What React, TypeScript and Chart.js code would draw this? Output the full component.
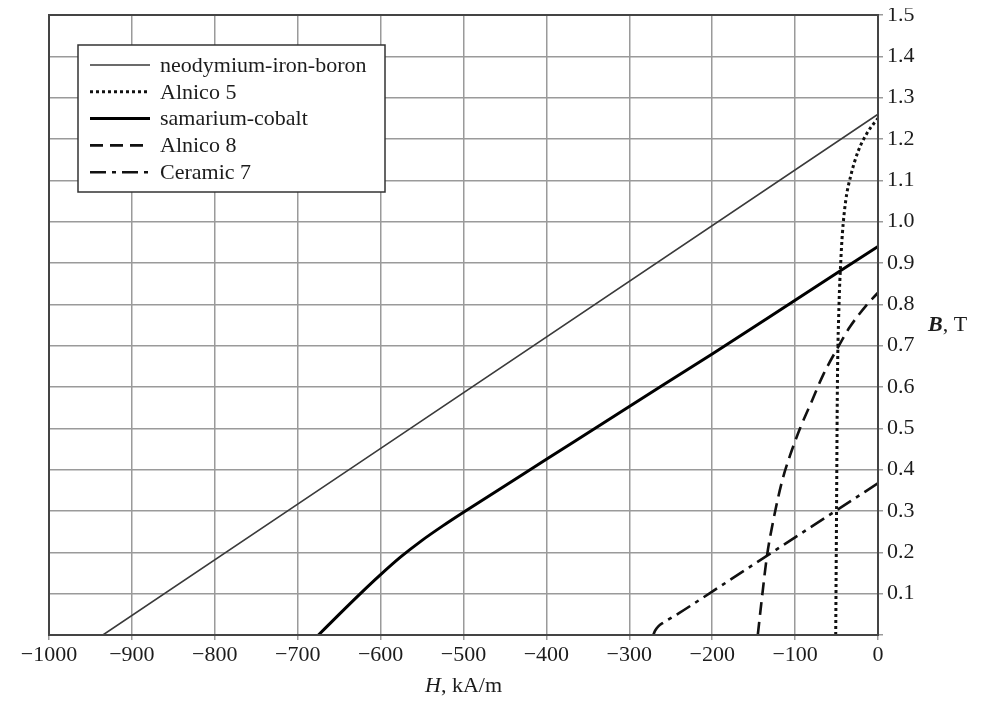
import React, { useEffect, useRef } from 'react';
import { Chart, registerables } from 'chart.js';

Chart.register(...registerables);

// Axis ranges / ticks
const hMin = -1000;
const hMax = 0;
const hStep = 100;
const bMin = 0;
const bMax = 1.5;
const bStep = 0.1;

// Series (H in kA/m, B in T)
const ndH = [-935, 0];
const ndB = [0, 1.26];

const alnico5H = [-51, -50, -49, -47, -45, -43, -39, -33, -24, -13, -4, 0];
const alnico5B = [0, 0.3, 0.6, 0.8, 0.9, 0.97, 1.05, 1.11, 1.17, 1.215, 1.24, 1.25];

const smcoH = [-675, -650, -625, -600, -575, -550, -525, -500, -400, -300, -200, -100, 0];
const smcoB = [0, 0.05, 0.099, 0.146, 0.19, 0.229, 0.264, 0.297, 0.425, 0.553, 0.68, 0.81, 0.94];

const alnico8H = [-145, -140, -134, -126, -116, -106, -94, -80, -66, -50, -34, -13, 0];
const alnico8B = [0, 0.09, 0.19, 0.28, 0.37, 0.435, 0.5, 0.565, 0.63, 0.69, 0.745, 0.8, 0.828];

const ceramic7H = [-271, -269, -265, -258, -250, -240, -200, -130, -49, 0];
const ceramic7B = [0, 0.01, 0.021, 0.031, 0.041, 0.053, 0.105, 0.197, 0.303, 0.367];

const seriesLabels = ['neodymium-iron-boron', 'Alnico 5', 'samarium-cobalt', 'Alnico 8', 'Ceramic 7'];

const FONT = "'Liberation Serif', 'DejaVu Serif', serif";
const TEXT = '#1c1c1c';

const toPoints = (hs: number[], bs: number[]) => hs.map((h, i) => ({ x: h, y: bs[i] }));

const overlayPlugin = {
  id: 'overlay',
  afterDraw(chart: any) {
    const { ctx, chartArea: a } = chart;
    ctx.save();
    // legend box
    const lx = a.left + 29;
    const ly = a.top + 30;
    const lw = 307;
    const lh = 147;
    ctx.fillStyle = '#fff';
    ctx.fillRect(lx, ly, lw, lh);
    ctx.strokeStyle = '#333';
    ctx.lineWidth = 1.5;
    ctx.setLineDash([]);
    ctx.strokeRect(lx, ly, lw, lh);
    chart.data.datasets.forEach((ds: any, i: number) => {
      const y = ly + 20 + i * 26.8;
      ctx.beginPath();
      ctx.setLineDash(ds.borderDash || []);
      ctx.lineWidth = ds.borderWidth;
      ctx.strokeStyle = ds.borderColor;
      ctx.moveTo(lx + 12, y);
      ctx.lineTo(lx + 72, y);
      ctx.stroke();
      ctx.setLineDash([]);
      ctx.fillStyle = TEXT;
      ctx.font = `22px ${FONT}`;
      ctx.textBaseline = 'middle';
      ctx.textAlign = 'left';
      ctx.fillText(ds.label, lx + 82, y + 1);
    });
    // plot border
    ctx.strokeStyle = '#444';
    ctx.lineWidth = 2;
    ctx.strokeRect(a.left, a.top, a.right - a.left, a.bottom - a.top);
    // x title
    ctx.fillStyle = TEXT;
    ctx.textBaseline = 'alphabetic';
    ctx.textAlign = 'left';
    ctx.font = `italic 22px ${FONT}`;
    const w1 = ctx.measureText('H').width;
    ctx.font = `22px ${FONT}`;
    const w2 = ctx.measureText(', kA/m').width;
    const cx = (a.left + a.right) / 2 - (w1 + w2) / 2;
    const by = a.bottom + 57;
    ctx.font = `italic 22px ${FONT}`;
    ctx.fillText('H', cx, by);
    ctx.font = `22px ${FONT}`;
    ctx.fillText(', kA/m', cx + w1, by);
    // y title
    const ys = chart.scales.y;
    const ty = ys.getPixelForValue(0.75);
    ctx.textBaseline = 'middle';
    ctx.font = `italic bold 22px ${FONT}`;
    const bw = ctx.measureText('B').width;
    ctx.fillText('B', a.right + 50, ty);
    ctx.font = `22px ${FONT}`;
    ctx.fillText(', T', a.right + 50 + bw, ty);
    ctx.restore();
  },
};

export default function App() {
  const ref = useRef<HTMLCanvasElement>(null);
  useEffect(() => {
    if (!ref.current) return;
    const common = { showLine: true, pointRadius: 0, cubicInterpolationMode: 'monotone' };
    const chart = new Chart(ref.current, {
      type: 'scatter',
      data: {
        datasets: [
          {
            ...common,
            label: seriesLabels[0],
            data: toPoints(ndH, ndB),
            borderColor: '#3a3a3a',
            borderWidth: 1.6,
          },
          {
            ...common,
            label: seriesLabels[1],
            data: toPoints(alnico5H, alnico5B),
            borderColor: '#111',
            borderWidth: 3,
            borderDash: [3, 3],
          },
          {
            ...common,
            label: seriesLabels[2],
            data: toPoints(smcoH, smcoB),
            borderColor: '#000',
            borderWidth: 3,
          },
          {
            ...common,
            label: seriesLabels[3],
            data: toPoints(alnico8H, alnico8B),
            borderColor: '#111',
            borderWidth: 2.6,
            borderDash: [13, 7],
          },
          {
            ...common,
            label: seriesLabels[4],
            data: toPoints(ceramic7H, ceramic7B),
            borderColor: '#111',
            borderWidth: 2.6,
            borderDash: [16, 6, 4, 6],
          },
        ] as any,
      },
      options: {
        animation: false,
        responsive: true,
        maintainAspectRatio: false,
        layout: { padding: { left: 41, top: 7, right: 0, bottom: 0 } },
        plugins: {
          legend: { display: false },
          tooltip: { enabled: false },
        },
        scales: {
          x: {
            type: 'linear',
            min: hMin,
            max: hMax,
            afterFit: (s: any) => {
              s.height = 67;
              s.paddingLeft = 0;
              s.paddingRight = 0;
            },
            ticks: {
              stepSize: hStep,
              color: TEXT,
              font: { family: FONT, size: 22 },
              padding: 2,
              maxRotation: 0,
              autoSkip: false,
              callback: (v: any) => (Number(v) === 0 ? '0' : '\u2212' + Math.abs(Number(v))),
            },
            grid: { color: '#9a9a9a', lineWidth: 1.5, tickLength: 5 },
            border: { display: false },
          },
          y: {
            type: 'linear',
            position: 'right',
            min: bMin,
            max: bMax,
            afterFit: (s: any) => {
              s.width = 106;
              s.paddingTop = 0;
              s.paddingBottom = 0;
            },
            ticks: {
              stepSize: bStep,
              color: TEXT,
              font: { family: FONT, size: 22 },
              padding: 4,
              autoSkip: false,
              callback: (v: any) => (Math.abs(Number(v)) < 1e-9 ? '' : Number(v).toFixed(1)),
            },
            grid: { color: '#9a9a9a', lineWidth: 1.5, tickLength: 5 },
            border: { display: false },
          },
        },
      },
      plugins: [overlayPlugin],
    });
    return () => chart.destroy();
  }, []);
  return (
    <div style={{ width: 976, height: 694, position: 'relative' }}>
      <canvas ref={ref} />
    </div>
  );
}
